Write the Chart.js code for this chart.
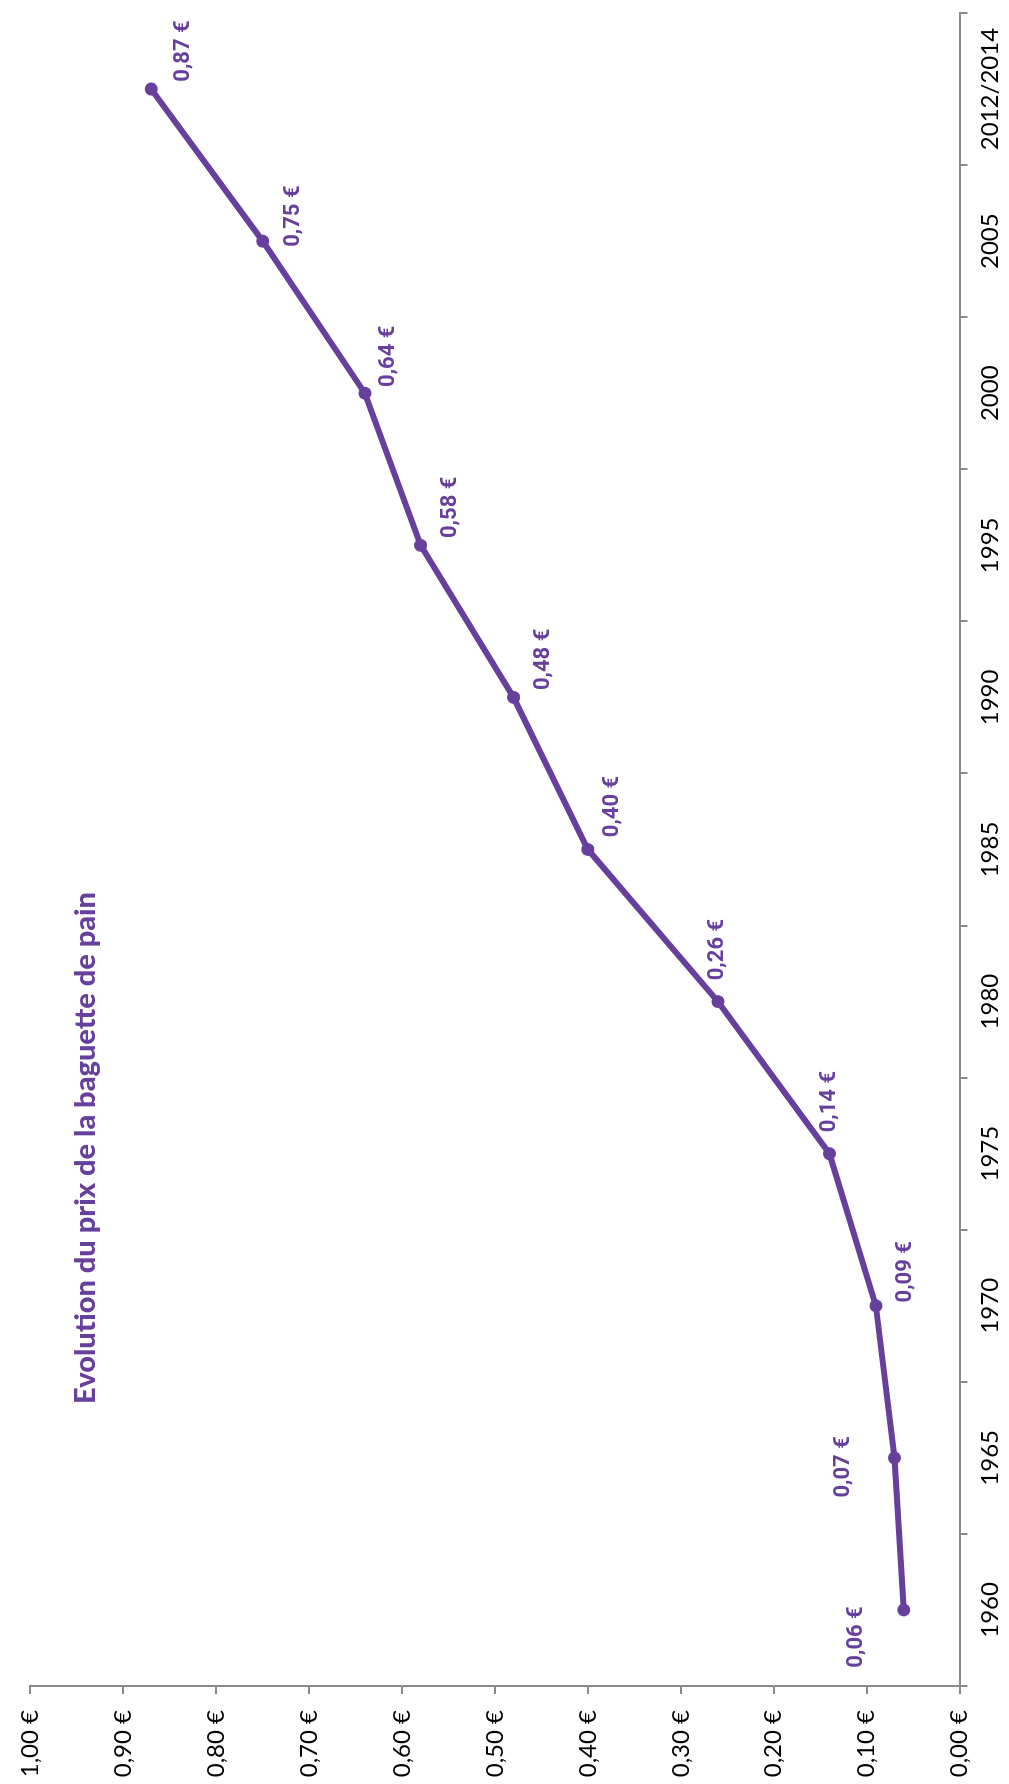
<!DOCTYPE html>
<html>
<head>
<meta charset="utf-8">
<script src="https://cdn.jsdelivr.net/npm/chart.js@4.4.1/dist/chart.umd.min.js"></script>
<style>
  html, body { margin: 0; padding: 0; background: #fff; overflow: hidden; }
  #page { position: relative; width: 1009px; height: 1784px; }
  /* the chart is laid out landscape, then turned a quarter to the left */
  #turn {
    position: absolute; left: 0; top: 0;
    width: 1784px; height: 1009px;
    transform-origin: 0 0;
    transform: translateY(1784px) rotate(-90deg);
  }
</style>
</head>
<body>
<div id="page">
  <div id="turn"><canvas id="chart" width="1784" height="1009"></canvas></div>
</div>
<script>
const years = ['1960', '1965', '1970', '1975', '1980', '1985', '1990', '1995', '2000', '2005', '2012/2014'];
const prices = [0.06, 0.07, 0.09, 0.14, 0.26, 0.40, 0.48, 0.58, 0.64, 0.75, 0.87];
const title = 'Evolution du prix de la baguette de pain';

const purple = '#673f9c';
const axisGrey = '#8a8a8e';

// where each price label sits relative to its point (landscape coords)
const labelShift = [
  [-27, -47], [-9, -51], [34, 30], [52, 0], [52, 0], [43, 25],
  [38, 30], [38, 30], [37, 24], [25, 31], [38, 32]
];

const euro = v => v.toFixed(2).replace('.', ',') + ' €';

const priceLabels = {
  id: 'priceLabels',
  afterDatasetsDraw(chart) {
    const ctx = chart.ctx;
    const meta = chart.getDatasetMeta(0);
    ctx.save();
    ctx.fillStyle = purple;
    ctx.font = 'bold 22px Roboto';
    ctx.textAlign = 'center';
    ctx.textBaseline = 'middle';
    meta.data.forEach((pt, i) => {
      const [dx, dy] = labelShift[i];
      ctx.fillText(euro(prices[i]), pt.x + dx, pt.y + dy);
    });
    ctx.restore();
  }
};

const chartTitle = {
  id: 'chartTitle',
  afterDraw(chart) {
    const ctx = chart.ctx;
    ctx.save();
    ctx.fillStyle = purple;
    ctx.font = '900 29px "Comic Sans MS", Lato';
    ctx.textAlign = 'left';
    ctx.textBaseline = 'middle';
    ctx.fillText(title, 380, 86);
    ctx.restore();
  }
};

const tickFont = { family: 'Lato', size: 24 };

new Chart(document.getElementById('chart'), {
  type: 'line',
  data: {
    labels: years,
    datasets: [{
      data: prices,
      borderColor: purple,
      backgroundColor: purple,
      borderWidth: 6,
      pointRadius: 6.5,
      pointBorderWidth: 0,
      pointBackgroundColor: purple,
      tension: 0
    }]
  },
  options: {
    responsive: false,
    animation: false,
    layout: { padding: { top: 23, right: 13, left: 0, bottom: 0 } },
    plugins: {
      legend: { display: false },
      tooltip: { enabled: false }
    },
    scales: {
      x: {
        offset: true,
        grid: { offset: true, drawOnChartArea: false, tickLength: 8, color: axisGrey, lineWidth: 2 },
        border: { color: axisGrey, width: 2 },
        ticks: { color: '#000', font: tickFont, padding: 8, maxRotation: 0, autoSkip: false },
        afterFit: s => { s.height = 49.5; }
      },
      y: {
        min: 0,
        max: 1,
        grid: { drawOnChartArea: false, tickLength: 8, color: axisGrey, lineWidth: 2 },
        border: { color: axisGrey, width: 2 },
        ticks: { stepSize: 0.1, color: '#000', font: tickFont, padding: 16, callback: v => euro(v) },
        afterFit: s => { s.width = 98; }
      }
    }
  },
  plugins: [priceLabels, chartTitle]
});
</script>
</body>
</html>
